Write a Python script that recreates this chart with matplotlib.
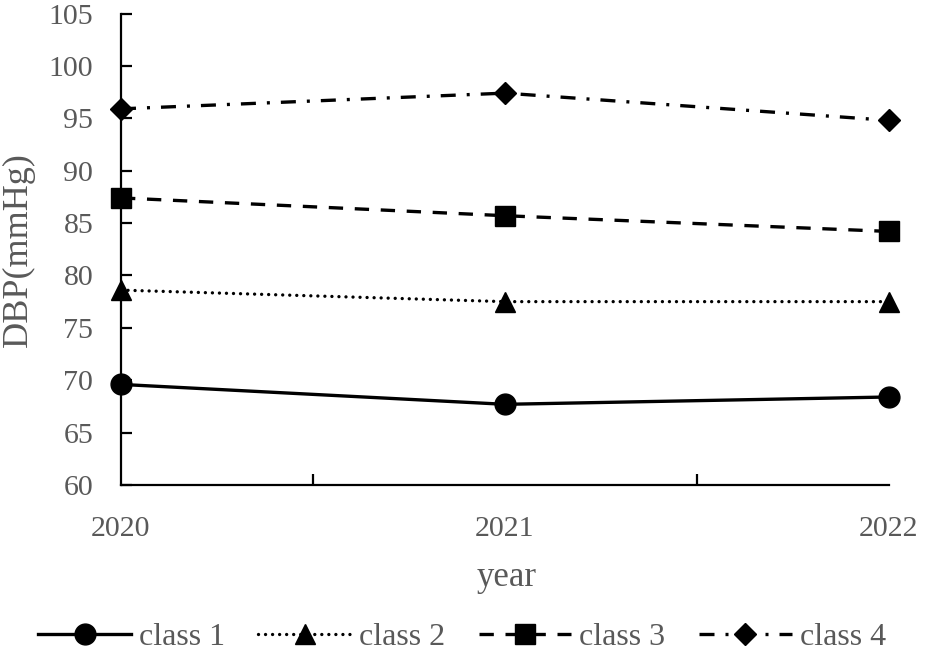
import matplotlib
matplotlib.use("Agg")
import matplotlib.pyplot as plt

plt.rcParams['font.family'] = ['Liberation Serif', 'DejaVu Serif']

years = [2020, 2021, 2022]
class1 = [69.6, 67.7, 68.4]
class2 = [78.6, 77.5, 77.5]
class3 = [87.4, 85.7, 84.2]
class4 = [95.9, 97.4, 94.8]
labels = ["class 1", "class 2", "class 3", "class 4"]
y_ticks = list(range(60, 106, 5))

GRAY = "#595959"

fig = plt.figure(figsize=(9.25, 6.54), dpi=100)
ax = fig.add_axes([121/925, 1 - 485/654, (889-121)/925, (485-13.5)/654])

lw = 2.4
styles = [
    dict(linestyle='-', marker='o', markersize=15),
    dict(linestyle=(0, (0.01, 2.1)), marker='^', markersize=15, dash_capstyle='round'),
    dict(linestyle=(0, (4.3, 3.5)), marker='s', markersize=14),
    dict(linestyle=(0, (4.5, 3.3, 0.9, 3.3)), marker='D', markersize=11),
]
series = [class1, class2, class3, class4]
for vals, lab, st in zip(series, labels, styles):
    ax.plot(years, vals, color='black', linewidth=lw, markerfacecolor='black',
            markeredgecolor='black', clip_on=False, label=lab, zorder=3, **st)

ax.set_xlim(2020, 2022)
ax.set_ylim(60, 105)
ax.set_yticks(y_ticks)
ax.set_xticks(years)
ax.set_xticks([2020, 2020.5, 2021.5, 2022], minor=True)

for s in ['top', 'right']:
    ax.spines[s].set_visible(False)
for s in ['left', 'bottom']:
    ax.spines[s].set_linewidth(1.6)
    ax.spines[s].set_color('black')

ax.tick_params(axis='y', which='major', direction='in', length=8, width=1.6,
               labelsize=21.5, labelcolor=GRAY, pad=20, color='black')
ax.tick_params(axis='x', which='major', length=0, labelsize=21.5, labelcolor=GRAY, pad=22)
ax.tick_params(axis='x', which='minor', direction='in', length=8, width=1.6, color='black')

fig.text(18/925, 1 - 250/654, "DBP(mmHg)", rotation=90, ha='center', va='center',
         fontsize=26, color=GRAY)
fig.text(507/925, 1 - 586/654, "year", ha='center', va='baseline', fontsize=25, color=GRAY)

leg = fig.legend(loc='center', bbox_to_anchor=(462/925, 1 - 637/654), ncol=4,
                 frameon=False, fontsize=23, handlelength=2.9, handletextpad=0.25,
                 columnspacing=1.05, numpoints=1, borderpad=0, borderaxespad=0)
for t in leg.get_texts():
    t.set_color(GRAY)

fig.savefig("out.png", dpi=100)
